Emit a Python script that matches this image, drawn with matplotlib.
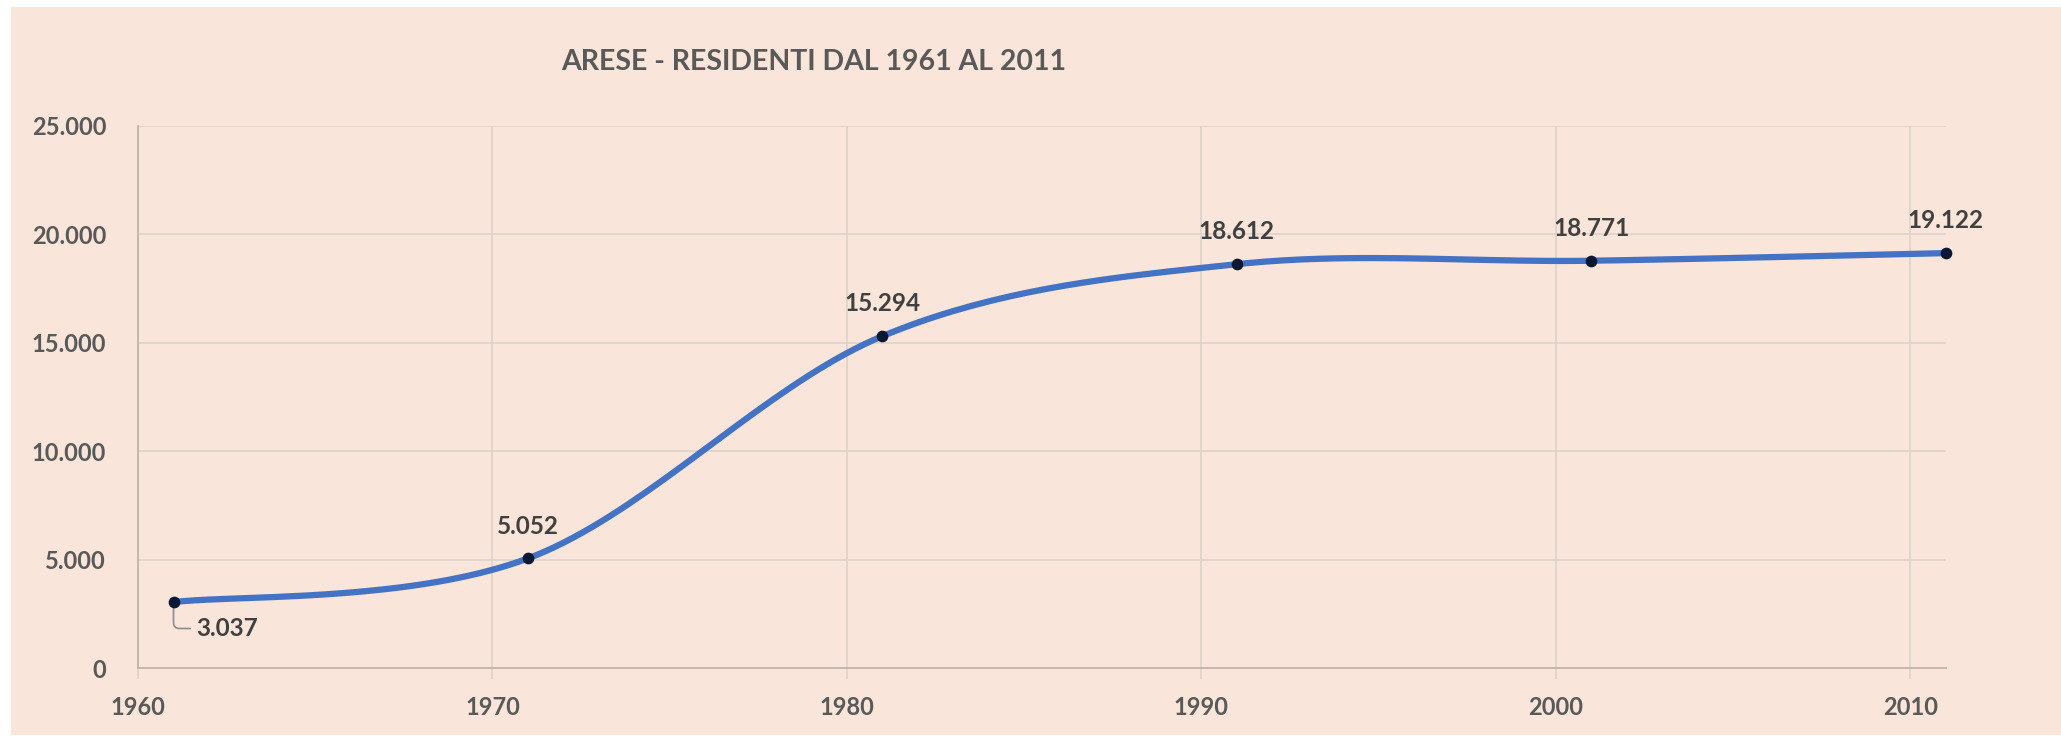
from matplotlib import pyplot as plt
from matplotlib.patches import Rectangle
from matplotlib.ticker import FuncFormatter
import numpy as np

plt.rcParams['font.family'] = ['Lato', 'DejaVu Sans']

years = [1961, 1971, 1981, 1991, 2001, 2011]
residents = [3037, 5052, 15294, 18612, 18771, 19122]
labels = ['3.037', '5.052', '15.294', '18.612', '18.771', '19.122']
x_ticks = [1960, 1970, 1980, 1990, 2000, 2010]
y_ticks = [0, 5000, 10000, 15000, 20000, 25000]

_BG = '#F9E5D9'
_GRID = '#DDD3CB'
_TEXT = '#595959'
_LINE = '#4472C4'


def thousands(v, pos=None):
    return '{:,.0f}'.format(v).replace(',', '.')


def smooth_path(ax, xs, ys, steps=40):
    # Excel-style smoothing: Catmull-Rom bezier done in screen space
    pts = ax.transData.transform(np.column_stack([xs, ys]))
    padded = np.vstack([pts[0], pts, pts[-1]])
    out = []
    for i in range(len(pts) - 1):
        p0, p1, p2, p3 = padded[i], padded[i + 1], padded[i + 2], padded[i + 3]
        c1 = p1 + (p2 - p0) / 6.0
        c2 = p2 - (p3 - p1) / 6.0
        t = np.linspace(0, 1, steps)[:, None]
        seg = ((1 - t) ** 3 * p1 + 3 * (1 - t) ** 2 * t * c1
               + 3 * (1 - t) * t ** 2 * c2 + t ** 3 * p2)
        out.append(seg if i == 0 else seg[1:])
    out = np.vstack(out)
    return ax.transData.inverted().transform(out)


fig = plt.figure(figsize=(20.61, 7.37), dpi=100)
fig.patch.set_facecolor('white')
fig.patches.append(Rectangle((11 / 2061, 2 / 737), 1 - 11 / 2061, 1 - 9 / 737,
                             transform=fig.transFigure, facecolor=_BG,
                             edgecolor='none', zorder=-10))

ax = fig.add_axes([0.067, 0.0936, 0.877, 0.736])
ax.set_facecolor('none')
ax.set_xlim(1960, 2011)
ax.set_ylim(0, 25000)

ax.set_xticks(x_ticks)
ax.set_yticks(y_ticks)
ax.yaxis.set_major_formatter(FuncFormatter(thousands))
ax.grid(True, color=_GRID, linewidth=1.2)
ax.set_axisbelow(True)

for side in ('top', 'right'):
    ax.spines[side].set_visible(False)
for side in ('left', 'bottom'):
    ax.spines[side].set_color('#BFB5AD')
    ax.spines[side].set_linewidth(1.3)

ax.tick_params(axis='x', length=8, color=_GRID, width=1.2, pad=12,
               labelsize=17, labelcolor=_TEXT)
ax.tick_params(axis='y', length=0, pad=23, labelsize=17, labelcolor=_TEXT)
for lab in ax.get_xticklabels() + ax.get_yticklabels():
    lab.set_fontweight('bold')

curve = smooth_path(ax, years, residents)
ax.plot(curve[:, 0], curve[:, 1], color=_LINE, linewidth=4.5,
        solid_capstyle='round', zorder=3, clip_on=False)
ax.scatter(years, residents, s=55, color='#0B1733', zorder=4, clip_on=False)

for i, (x, y, lab) in enumerate(zip(years, residents, labels)):
    if i == 0:
        ax.annotate(lab, (x, y), xytext=(16, -19), textcoords='offset points',
                    fontsize=17.5, fontweight='bold', color='#404040',
                    ha='left', va='center',
                    arrowprops=dict(arrowstyle='-', color='#8C8C8C', lw=1.2,
                                    shrinkA=2, shrinkB=4, relpos=(0, 0.5),
                                    connectionstyle='angle,angleA=0,angleB=90,rad=6'))
    else:
        ax.annotate(lab, (x, y), xytext=(0, 15), textcoords='offset points',
                    fontsize=17.5, fontweight='bold', color='#404040',
                    ha='center', va='bottom')

fig.text(0.395, 0.916, 'ARESE - RESIDENTI DAL 1961 AL 2011', ha='center',
         va='center', fontsize=20.5, fontweight='bold', color=_TEXT)

fig.savefig('out.png', dpi=100, facecolor=fig.get_facecolor())
